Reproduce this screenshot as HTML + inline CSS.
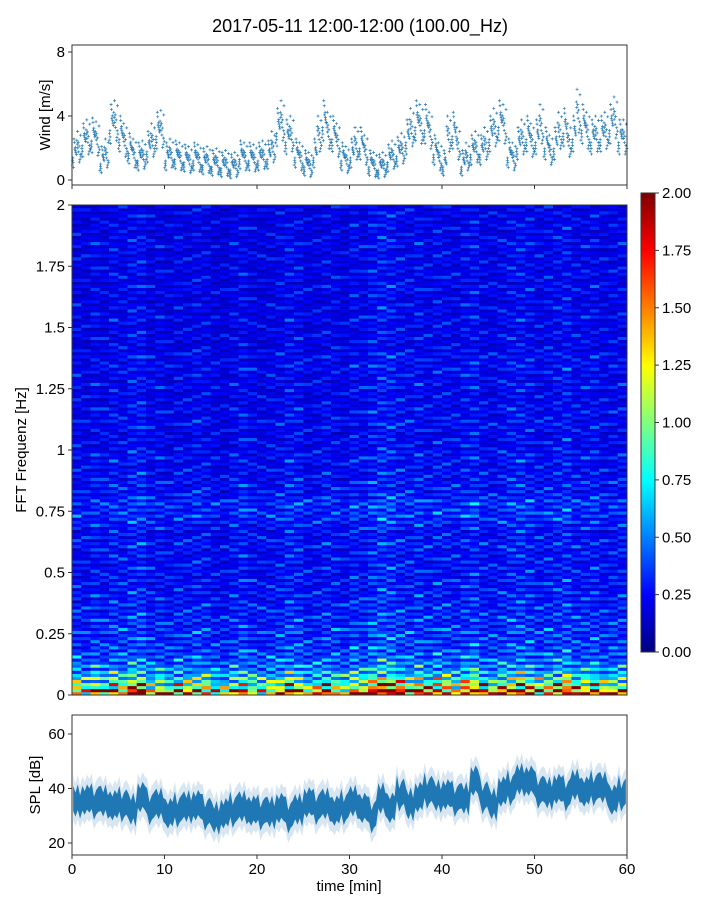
<!DOCTYPE html>
<html><head><meta charset="utf-8"><style>
body{margin:0;background:#fff;font-family:"Liberation Sans","DejaVu Sans",sans-serif}
svg text{font-family:"Liberation Sans","DejaVu Sans",sans-serif;fill:#000}
</style></head><body>
<svg id="fig" width="720" height="900" xmlns="http://www.w3.org/2000/svg">
<text x="360" y="32" font-size="18" text-anchor="middle">2017-05-11 12:00-12:00 (100.00_Hz)</text>
<g id="wind"></g>
<g id="spec"></g>
<g id="cbar"></g>
<g id="spl"></g>
</svg>
<script>
const windValues=[1.6,2.0,2.4,2.6,2.7,2.5,1.2,1.6,3.4,3.6,2.8,2.4,
1.9,1.6,1.4,1.5,2.0,2.4,3.0,3.1,1.4,1.6,1.5,1.4,
1.3,1.2,1.4,1.3,1.1,1.2,1.0,1.1,0.9,1.0,0.8,0.9,
1.5,1.4,1.4,1.3,1.4,1.5,1.5,2.0,3.2,3.6,2.6,2.8,
1.6,1.4,1.0,0.9,1.6,2.8,3.6,3.0,2.8,2.4,1.4,1.2,
1.6,2.2,2.2,1.8,1.0,0.9,0.8,0.9,1.3,1.5,1.7,1.9,
2.6,3.2,3.6,3.4,3.4,3.0,1.8,1.4,1.0,2.8,3.0,2.2,
1.0,1.4,1.8,2.0,1.8,2.2,2.8,3.2,3.6,3.4,1.6,1.4,
2.2,2.6,2.8,2.4,2.6,3.4,2.2,1.8,2.2,3.0,3.2,2.4,
2.8,4.2,3.4,3.0,2.6,2.8,2.8,3.0,3.4,3.8,2.6,2.6];
const windTicks=[0,4,8];
const specRowProfile=[1.55,1.05,0.8,0.62,0.5,0.44,0.4,0.36,0.34,0.33,0.35,0.3,0.32,0.29,0.3,0.27,0.28,0.26,0.28,0.25,
0.27,0.25,0.26,0.24,0.28,0.26,0.24,0.27,0.3,0.33,0.31,0.33,0.28,0.26,0.27,0.24,0.25,0.23,0.26,0.24,
0.22,0.24,0.21,0.23,0.25,0.22,0.24,0.21,0.22,0.21,0.24,0.21,0.23,0.25,0.22,0.24,0.21,0.2,0.22,0.2,
0.21,0.23,0.2,0.22,0.2,0.21,0.23,0.2,0.22,0.21,0.2,0.22,0.2,0.23,0.21,0.2,0.22,0.2,0.21,0.2];
const specColFactor=[1.0,0.9,1.05,0.95,1.1,1.0,1.15,1.2,0.95,1.0,0.9,1.0,0.95,1.05,1.0,0.9,0.85,1.0,1.1,0.95,
0.9,0.95,1.0,1.15,1.1,0.9,0.95,1.05,1.0,0.9,1.1,1.0,1.2,1.3,1.25,1.1,1.05,1.15,1.0,1.1,
1.05,1.0,1.1,1.2,1.0,0.95,1.05,1.15,1.2,1.1,1.0,1.05,1.1,1.2,1.0,1.05,1.1,0.95,1.0,1.05];
const specStreak=[1.0,0.6,1.3,0.8,1.7,0.7,1.1,0.5,1.4,0.9,1.2,0.65,1.9,0.8,1.0,0.55,1.35,0.75,1.15,0.6,1.5,0.85,0.7];
const specColShift=[0,7,3,11,5,14,2,9,17,4,12,1,8,15,6,19,10,3,13,21,7,0,16,5,11,18,2,9,14,6,
20,4,12,1,17,8,15,3,10,22,6,13,0,19,9,16,2,11,5,18,7,14,1,21,10,4,17,8,12,3];
const freqTicks=[0,0.25,0.5,0.75,1,1.25,1.5,1.75,2];
const freqTickLabels=["0","0.25","0.5","0.75","1","1.25","1.5","1.75","2"];
const cbarTicks=[0,0.25,0.5,0.75,1,1.25,1.5,1.75,2];
const splMid=[35,36,35,35,34,34,32,37,33,34,31,32,33,34,31,29,31,32,33,32,31,31,33,30,32,35,33,34,32,33,
35,33,30,36,33,38,34,37,39,37,38,36,36,43,37,34,39,40,43,43,39,38,40,38,41,39,40,40,36,38];
const splTicks=[20,40,60];
const timeTicks=[0,10,20,30,40,50,60];

const NS="http://www.w3.org/2000/svg";
function mk(p,t,a){const e=document.createElementNS(NS,t);for(const k in a)e.setAttribute(k,a[k]);p.appendChild(e);return e;}
const X0=72,X1=627;
const xs=t=>X0+(t/60)*(X1-X0);
const yWind=v=>180-v*16;
const yFreq=f=>695-f*245;
const yCb=v=>652-v*229.5;
const ySpl=v=>843-(v-20)*2.725;
function jet(v){const x=Math.max(0,Math.min(1,v/2));const c=q=>Math.round(255*Math.max(0,Math.min(1,1.5-Math.abs(4*x-q))));return `rgb(${c(3)},${c(2)},${c(1)})`;}

// wind
const W=document.getElementById('wind');
const jit=[-0.9,0.3,-0.3,1.0,0,-1.1,0.6,-0.5,1.3,0.15,-0.7,0.45];
const tj=[0.02,0.3,0.12,0.42,0.22,0.07,0.36,0.17,0.47,0.27,0.1,0.39];
windValues.forEach((v,i)=>{
 for(let k=0;k<12;k++){
  const t=i*0.5+tj[(k*5+i)%12];const val=Math.max(0,v+jit[(k*7+i*5)%12]*(0.5+v*0.15));
  const px=xs(t),py=yWind(val);
  const m=mk(W,'path',{d:`M${px-1.5},${py}h3M${px},${py-1.5}v3`,stroke:'#1f77b4','stroke-width':0.7});
  
  
 }
});
let fr=mk(W,'rect',{x:X0,y:45,width:X1-X0,height:140,fill:'none',stroke:'#333','stroke-width':1});

windTicks.forEach(v=>{mk(W,'line',{x1:X0-4,x2:X0,y1:yWind(v),y2:yWind(v),stroke:'#333'});
 const t=mk(W,'text',{x:X0-7,y:yWind(v)+5,'font-size':15,'text-anchor':'end'});t.textContent=v;
 });
timeTicks.forEach(v=>mk(W,'line',{x1:xs(v),x2:xs(v),y1:185,y2:189,stroke:'#333'}));
let wl=mk(W,'text',{x:0,y:0,'font-size':15,'text-anchor':'middle',transform:'translate(50,115) rotate(-90)'});wl.textContent='Wind [m/s]';


// spectrogram
const S=document.getElementById('spec');
const nR=specRowProfile.length,nC=specColFactor.length;
const df=2/nR;
for(let c=0;c<nC;c++)for(let r=0;r<nR;r++)for(let s=0;s<2;s++){
 const st=specStreak[(2*r+s+specColShift[c])%specStreak.length];
 const v=specRowProfile[r]*specColFactor[c]*(r<3?specColFactor[c]:1)*st;
 const y1=yFreq((r+(s+1)/2)*df),y0=yFreq((r+s/2)*df);
 const e=mk(S,'rect',{x:xs(c),y:y1,width:xs(c+1)-xs(c)+0.3,height:y0-y1+0.3,fill:jet(v)});
 
 
}
fr=mk(S,'rect',{x:X0,y:205,width:X1-X0,height:490,fill:'none',stroke:'#333'});

freqTicks.forEach((f,i)=>{mk(S,'line',{x1:X0-4,x2:X0,y1:yFreq(f),y2:yFreq(f),stroke:'#333'});
 const t=mk(S,'text',{x:X0-7,y:yFreq(f)+5,'font-size':15,'text-anchor':'end'});t.textContent=freqTickLabels[i];
 });
let fl=mk(S,'text',{x:0,y:0,'font-size':15,'text-anchor':'middle',transform:'translate(26,450) rotate(-90)'});fl.textContent='FFT Frequenz [Hz]';


// colorbar
const C=document.getElementById('cbar');
for(let i=0;i<200;i++){const v=i/100;mk(C,'rect',{x:641,y:yCb(v+0.01),width:14,height:yCb(v)-yCb(v+0.01)+0.5,fill:jet(v+0.005)});}
mk(C,'rect',{x:641,y:193,width:14,height:459,fill:'none',stroke:'#333'});
cbarTicks.forEach(v=>{mk(C,'line',{x1:655,x2:659,y1:yCb(v),y2:yCb(v),stroke:'#333'});
 const t=mk(C,'text',{x:662,y:yCb(v)+5,'font-size':15});t.textContent=v.toFixed(2);
 });

// SPL
const P=document.getElementById('spl');
const sj=[1.5,-1,2,-2,0.5,-1.5,1,-0.5,2.5,-2.5,0,1.2];
function band(w,op,nm){let up=[],lo=[];
 splMid.forEach((v,i)=>{for(let k=0;k<4;k++){const t=i+k*0.25+0.125;const j=sj[(i*4+k)%12];up.push([xs(t),ySpl(v+w+j)]);lo.push([xs(t),ySpl(v-w+j*0.8)]);}});
 const d='M'+up.map(p=>p.join(',')).join('L')+'L'+lo.reverse().map(p=>p.join(',')).join('L')+'Z';
 const e=mk(P,'path',{d,fill:'#1f77b4','fill-opacity':op});}
band(8,0.18,'spl-outer-band');band(4.5,1,'spl-band');
fr=mk(P,'rect',{x:X0,y:715,width:X1-X0,height:140,fill:'none',stroke:'#333'});

splTicks.forEach(v=>{mk(P,'line',{x1:X0-4,x2:X0,y1:ySpl(v),y2:ySpl(v),stroke:'#333'});
 const t=mk(P,'text',{x:X0-7,y:ySpl(v)+5,'font-size':15,'text-anchor':'end'});t.textContent=v;
 });
timeTicks.forEach(v=>{mk(P,'line',{x1:xs(v),x2:xs(v),y1:855,y2:859,stroke:'#333'});
 const t=mk(P,'text',{x:xs(v),y:874,'font-size':15,'text-anchor':'middle'});t.textContent=v;
 });
let sl=mk(P,'text',{x:0,y:0,'font-size':15,'text-anchor':'middle',transform:'translate(40,785) rotate(-90)'});sl.textContent='SPL [dB]';

let tl=mk(P,'text',{x:349,y:891,'font-size':15,'text-anchor':'middle'});tl.textContent='time [min]';

</script>
</body></html>
